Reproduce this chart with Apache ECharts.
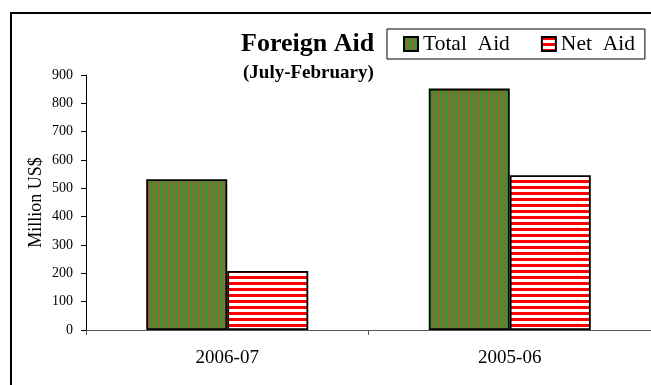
<!DOCTYPE html>
<html><head><meta charset="utf-8">
<script src="https://cdn.jsdelivr.net/npm/echarts@6/dist/echarts.min.js"></script>
<style>
html,body{margin:0;padding:0;background:#fff;}
#frame{position:absolute;left:10px;top:12px;width:700px;height:400px;border-top:2px solid #000;border-left:2px solid #000;}
#c{position:absolute;left:0;top:0;width:651px;height:385px;}
</style></head>
<body><div id="frame"></div><div id="c"></div>
<script>
var categories = ['2006-07', '2005-06'];
var totalAid = [532, 852];
var netAid = [208, 546];
var seriesNames = ['Total  Aid', 'Net  Aid'];
var titleText = 'Foreign Aid';
var subtitleText = '(July-February)';
var yAxisName = 'Million US$';

function stripes(vertical, c1, w1, c2, w2) {
  var cv = document.createElement('canvas');
  var p = w1 + w2;
  cv.width = vertical ? p : 8;
  cv.height = vertical ? 8 : p;
  var ctx = cv.getContext('2d');
  ctx.fillStyle = c1; ctx.fillRect(0, 0, cv.width, cv.height);
  ctx.fillStyle = c2;
  if (vertical) ctx.fillRect(w1, 0, w2, cv.height);
  else ctx.fillRect(0, w1, cv.width, w2);
  return cv;
}
var greenPat = {image: stripes(true, '#3d922f', 3, '#9a6434', 2), repeat: 'repeat'};
var redPat = {image: stripes(false, '#ff0000', 3, '#ffffff', 3), repeat: 'repeat'};

var chart = echarts.init(document.getElementById('c'));
var font = '"Liberation Serif", "Times New Roman", serif';
chart.setOption({
  animation: false,
  title: [
    {text: titleText, left: 241, top: 31, padding: 0,
     textStyle: {fontFamily: font, fontSize: 26, fontWeight: 'bold', color: '#000'}},
    {text: subtitleText, left: 243, top: 64, padding: 0,
     textStyle: {fontFamily: font, fontSize: 19, fontWeight: 'bold', color: '#000'}}
  ],
  legend: {
    left: 387, top: 29,
    padding: [4, 10, 4, 16], itemGap: 31,
    borderColor: '#000', borderWidth: 1,
    itemWidth: 14, itemHeight: 14, icon: 'rect',
    textStyle: {fontFamily: font, fontSize: 21.5, color: '#000'},
    data: seriesNames
  },
  grid: {left: 86, top: 75, width: 572, height: 255},
  xAxis: {
    type: 'category', data: categories,
    axisLine: {lineStyle: {color: '#555', width: 1}},
    axisTick: {show: true, length: 5, inside: false, lineStyle: {color: '#555'}},
    axisLabel: {fontFamily: font, fontSize: 19, color: '#000', margin: 19}
  },
  yAxis: {
    type: 'value', min: 0, max: 900, interval: 100,
    name: yAxisName, nameLocation: 'middle', nameGap: 41, nameMoveOverlap: false,
    nameTextStyle: {fontFamily: font, fontSize: 18, color: '#000'},
    splitLine: {show: false},
    axisLine: {show: true, lineStyle: {color: '#000', width: 1}},
    axisTick: {show: true, length: 5, lineStyle: {color: '#000'}},
    axisLabel: {fontFamily: font, fontSize: 14, color: '#000', margin: 13}
  },
  series: [
    {name: seriesNames[0], type: 'bar', data: totalAid, barWidth: 81, barGap: '0%',
     itemStyle: {color: greenPat, borderColor: '#000', borderWidth: 1.8}},
    {name: seriesNames[1], type: 'bar', data: netAid, barWidth: 81,
     itemStyle: {color: redPat, borderColor: '#000', borderWidth: 1.8}}
  ]
});
</script></body></html>
